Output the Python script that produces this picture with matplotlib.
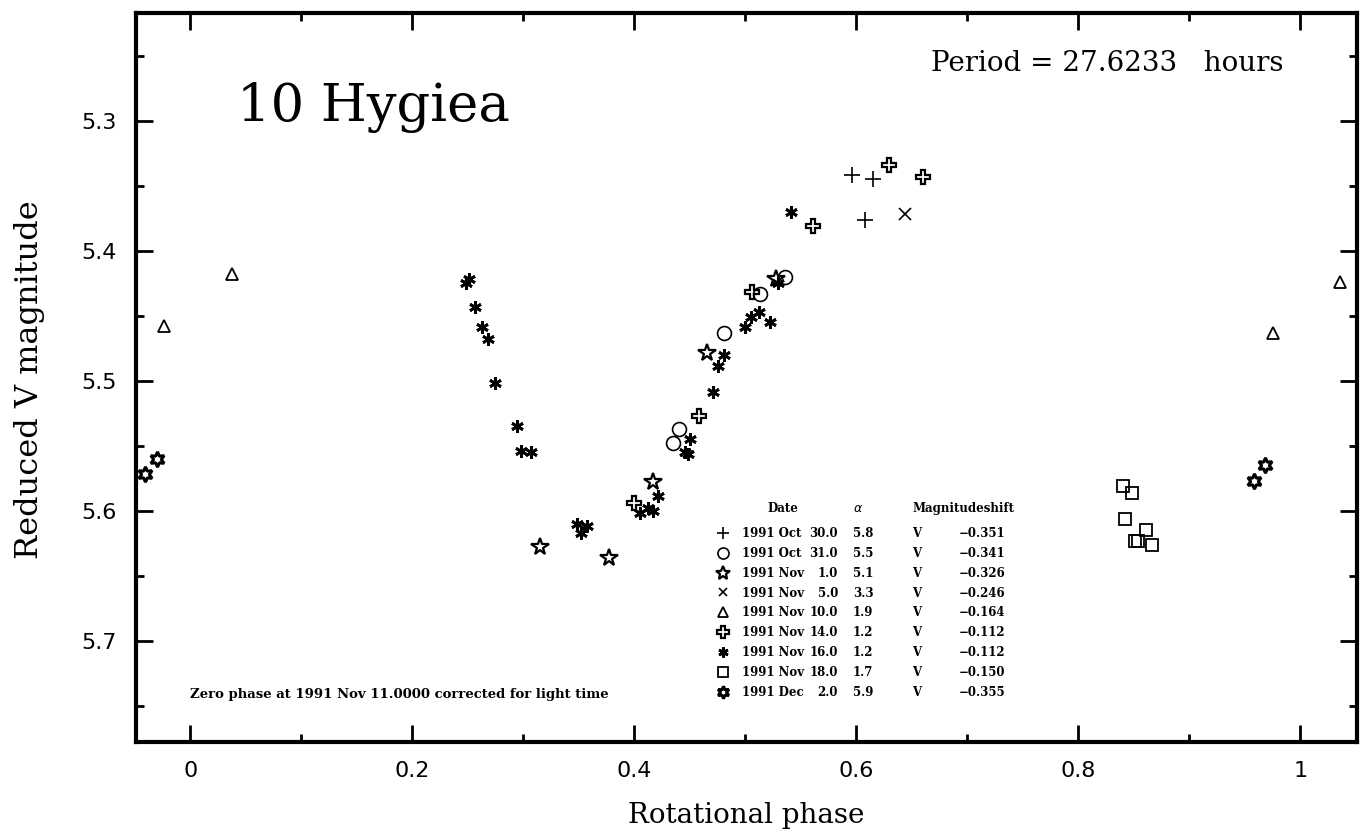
import matplotlib
matplotlib.use('Agg')
import matplotlib.pyplot as plt
from matplotlib.ticker import MultipleLocator, FuncFormatter

# observation nights (legend table)
obs_month = ['1991 Oct', '1991 Oct', '1991 Nov', '1991 Nov', '1991 Nov',
             '1991 Nov', '1991 Nov', '1991 Nov', '1991 Dec']
obs_day = ['30.0', '31.0', '1.0', '5.0', '10.0', '14.0', '16.0', '18.0', '2.0']
obs_alpha = ['5.8', '5.5', '5.1', '3.3', '1.9', '1.2', '1.2', '1.7', '5.9']
obs_band = ['V'] * 9
obs_shift = ['\u22120.351', '\u22120.341', '\u22120.326', '\u22120.246', '\u22120.164',
             '\u22120.112', '\u22120.112', '\u22120.150', '\u22120.355']

# rotational phase / reduced V magnitude per night
oct30_phase = [0.596, 0.615, 0.608]
oct30_mag = [5.342, 5.345, 5.376]
oct31_phase = [0.536, 0.513, 0.481, 0.440, 0.435]
oct31_mag = [5.420, 5.433, 5.463, 5.537, 5.548]
nov01_phase = [0.528, 0.465, 0.417, 0.315, 0.377]
nov01_mag = [5.422, 5.479, 5.578, 5.628, 5.636]
nov05_phase = [0.644]
nov05_mag = [5.372]
nov10_phase = [0.037, -0.024, 1.036, 0.975]
nov10_mag = [5.418, 5.458, 5.424, 5.463]
nov14_phase = [0.400, 0.458, 0.506, 0.561, 0.629, 0.660]
nov14_mag = [5.594, 5.527, 5.432, 5.381, 5.334, 5.343]
nov16_phase = [0.248, 0.251, 0.256, 0.263, 0.268, 0.274, 0.294, 0.298, 0.307,
               0.348, 0.357, 0.352, 0.421, 0.405, 0.412, 0.417, 0.529, 0.512,
               0.505, 0.522, 0.500, 0.481, 0.475, 0.471, 0.450, 0.446, 0.448, 0.541]
nov16_mag = [5.425, 5.422, 5.443, 5.459, 5.468, 5.502, 5.535, 5.554, 5.555,
             5.610, 5.612, 5.617, 5.589, 5.602, 5.598, 5.600, 5.425, 5.447,
             5.451, 5.455, 5.459, 5.480, 5.489, 5.509, 5.545, 5.555, 5.556, 5.370]
nov18_phase = [0.840, 0.848, 0.842, 0.861, 0.851, 0.854, 0.866]
nov18_mag = [5.581, 5.586, 5.606, 5.615, 5.623, 5.623, 5.626]
dec02_phase = [-0.030, -0.041, 0.968, 0.958]
dec02_mag = [5.560, 5.572, 5.565, 5.577]

phases = [oct30_phase, oct31_phase, nov01_phase, nov05_phase, nov10_phase,
          nov14_phase, nov16_phase, nov18_phase, dec02_phase]
mags = [oct30_mag, oct31_mag, nov01_mag, nov05_mag, nov10_mag,
        nov14_mag, nov16_mag, nov18_mag, dec02_mag]

styles = [
    dict(marker='+', ms=11, mew=1.2, mfc='k'),
    dict(marker='o', ms=10, mew=1.2, mfc='none'),
    dict(marker='*', ms=13, mew=1.6, mfc='none'),
    dict(marker='x', ms=8, mew=1.2, mfc='k'),
    dict(marker='^', ms=9, mew=1.3, mfc='none'),
    dict(marker='P', ms=10, mew=1.6, mfc='none'),
    dict(marker=(6, 2, 0), ms=9, mew=2.0, mfc='k'),
    dict(marker='s', ms=9, mew=1.3, mfc='none'),
    dict(marker=(6, 1, 0), ms=11, mew=2.2, mfc='white'),
]

fig = plt.figure(figsize=(13.62, 8.33), dpi=100)
ax = fig.add_axes([0.0999, 0.1092, 0.8964, 0.8752])

for ph, mg, st, lab in zip(phases, mags, styles, obs_month):
    ax.plot(ph, mg, linestyle='none', color='k', mec='k', label=lab, **st)

ax.set_xlim(-0.049, 1.051)
ax.set_ylim(5.778, 5.217)
ax.xaxis.set_major_locator(MultipleLocator(0.2))
ax.xaxis.set_minor_locator(MultipleLocator(0.1))
ax.yaxis.set_major_locator(MultipleLocator(0.1))
ax.yaxis.set_minor_locator(MultipleLocator(0.05))
ax.xaxis.set_major_formatter(FuncFormatter(lambda v, p: f'{v:g}'))
ax.yaxis.set_major_formatter(FuncFormatter(lambda v, p: f'{v:.1f}'))
ax.tick_params(which='both', direction='in', top=True, right=True, width=2,
               labelsize=16)
ax.tick_params(which='major', length=12, pad=14)
ax.tick_params(which='minor', length=6)
for s in ax.spines.values():
    s.set_linewidth(3)

serif = 'DejaVu Serif'
ax.text(0.042, 5.300, '10 Hygiea', size=38, family=serif, va='baseline')
ax.text(0.667, 5.262, 'Period = 27.6233   hours', size=20, family=serif, va='baseline')
ax.text(0.0, 5.7415, 'Zero phase at 1991 Nov 11.0000 corrected for light time',
        size=9.5, family=serif, weight='bold', va='center')

fig.text(0.548, 0.0216, 'Rotational phase', size=20, family=serif, ha='center', va='center')
fig.text(0.022, 0.544, 'Reduced V magnitude', size=23, family=serif, rotation=90,
         ha='center', va='center')

# legend table
tprop = dict(size=8.5, family=serif, weight='bold')
leg = ax.legend(loc='upper left', bbox_to_anchor=(0.4758, 0.295), frameon=False,
                prop=dict(family=serif, weight='bold', size=8.5), handlelength=1.0,
                handletextpad=1.1, labelspacing=0.58, borderpad=0, borderaxespad=0,
                markerscale=0.8)
ax.text(0.530, 0.320, 'Date', transform=ax.transAxes, ha='center', va='center', **tprop)
ax.text(0.587, 0.320, r'$\alpha$', transform=ax.transAxes, ha='left', va='center',
        size=9, weight='bold')
ax.text(0.636, 0.320, 'Magnitudeshift', transform=ax.transAxes, ha='left', va='center', **tprop)

fig.canvas.draw()
inv = ax.transAxes.inverted()
for t, d, a, b, sh in zip(leg.get_texts(), obs_day, obs_alpha, obs_band, obs_shift):
    bb = t.get_window_extent()
    yc = inv.transform((0, (bb.y0 + bb.y1) / 2))[1]
    ax.text(0.575, yc, d, transform=ax.transAxes, ha='right', va='center', **tprop)
    ax.text(0.587, yc, a, transform=ax.transAxes, ha='left', va='center', **tprop)
    ax.text(0.636, yc, b, transform=ax.transAxes, ha='left', va='center', **tprop)
    ax.text(0.712, yc, sh, transform=ax.transAxes, ha='right', va='center', **tprop)

fig.savefig('out.png', dpi=100)
